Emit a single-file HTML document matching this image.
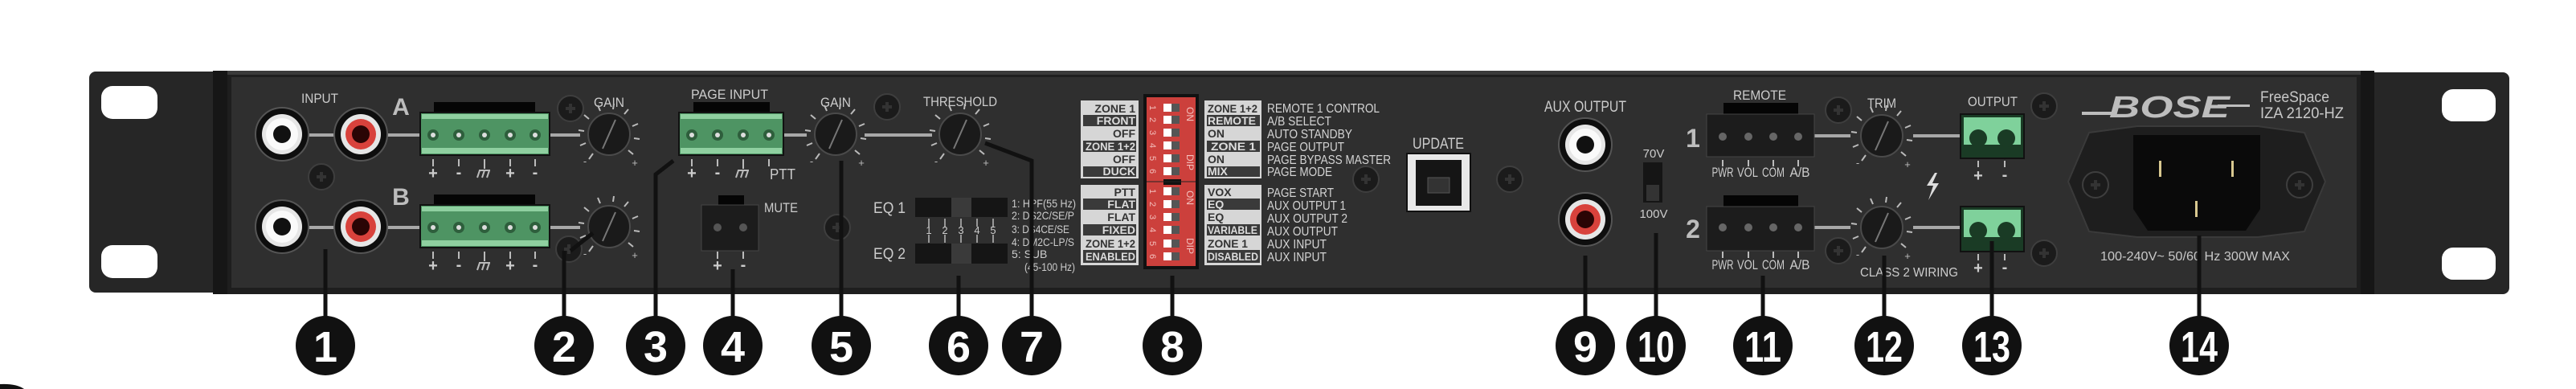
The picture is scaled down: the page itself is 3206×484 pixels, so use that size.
<!DOCTYPE html>
<html><head><meta charset="utf-8"><style>
html,body{margin:0;padding:0;background:#fff;width:3206px;height:484px;overflow:hidden;}
svg{display:block;}
text{font-family:"Liberation Sans Narrow","Liberation Sans",sans-serif;}
</style></head><body>
<svg width="3206" height="484" viewBox="0 0 3206 484" xmlns="http://www.w3.org/2000/svg">
<defs>
<g id="screw"><circle r="16" fill="#1b1b1b" stroke="#3e3e3e" stroke-width="2"/><path d="M-6 0H6M0 -6V6" stroke="#333" stroke-width="4"/></g>
<g id="knob">
<g stroke="#bbb" stroke-width="2">
<line x1="-20" y1="24" x2="-25" y2="31"/><line x1="-29" y1="11" x2="-36" y2="14"/><line x1="-31" y1="-4" x2="-38" y2="-5"/><line x1="-25" y1="-19" x2="-31" y2="-24"/><line x1="-11" y1="-29" x2="-14" y2="-36"/><line x1="5" y1="-31" x2="6" y2="-38"/><line x1="19" y1="-25" x2="24" y2="-31"/><line x1="29" y1="-10" x2="36" y2="-13"/><line x1="31" y1="5" x2="38" y2="6"/><line x1="24" y1="20" x2="30" y2="25"/></g>
<circle r="26" fill="#1a1a1a" stroke="#4a4a4a" stroke-width="2"/>
<line x1="-8" y1="18" x2="8" y2="-18" stroke="#777" stroke-width="2"/>
<text x="-30" y="38" font-size="13" fill="#bbb" text-anchor="middle">-</text><text x="32" y="40" font-size="13" fill="#bbb" text-anchor="middle">+</text>
</g>
<g id="rcaw"><circle r="33" fill="#0e0e0e" stroke="#555" stroke-width="2"/><circle r="25" fill="#e6e6e6"/><circle r="20" fill="#fafafa"/><circle r="11" fill="#111"/></g>
<g id="rcar"><circle r="33" fill="#0e0e0e" stroke="#555" stroke-width="2"/><circle r="25" fill="#e6e6e6"/><circle r="19" fill="#d8423c"/><circle r="11" fill="#2a0505"/></g>
<g id="pin"><circle r="7" fill="#2e5e3c"/><circle r="3" fill="#ddd"/></g>
</defs>
<rect width="3206" height="484" fill="#fff"/>
<rect x="111" y="89" width="170" height="275" rx="8" fill="#262626"/>
<rect x="2940" y="90" width="183" height="276" rx="8" fill="#262626"/>
<rect x="126" y="107" width="70" height="41" rx="14" fill="#fff"/>
<rect x="126" y="305" width="70" height="41" rx="14" fill="#fff"/>
<rect x="3039" y="111" width="67" height="40" rx="14" fill="#fff"/>
<rect x="3039" y="308" width="67" height="40" rx="14" fill="#fff"/>
<rect x="265" y="88" width="2690" height="278" fill="#1e1e1e"/>
<rect x="288" y="96" width="2645" height="262" fill="#2f2f2f"/>
<rect x="265" y="88" width="2690" height="5" fill="#3a3a3a"/>
<rect x="265" y="88" width="18" height="278" fill="#161616"/>
<rect x="2938" y="88" width="17" height="278" fill="#161616"/>

<g stroke="#a8a8a8" stroke-width="4">
<line x1="380" y1="168" x2="420" y2="168"/><line x1="480" y1="168" x2="525" y2="168"/><line x1="685" y1="168" x2="722" y2="168"/>
<line x1="380" y1="283" x2="420" y2="283"/><line x1="480" y1="283" x2="525" y2="283"/><line x1="685" y1="283" x2="722" y2="283"/>
<line x1="975" y1="168" x2="1004" y2="168"/><line x1="1076" y1="168" x2="1160" y2="168"/>
<line x1="2258" y1="169" x2="2303" y2="169"/><line x1="2381" y1="169" x2="2440" y2="169"/>
<line x1="2258" y1="283" x2="2303" y2="283"/><line x1="2381" y1="283" x2="2440" y2="283"/>
</g>

<text x="398" y="128" font-size="17" fill="#ccc" text-anchor="middle" textLength="46" lengthAdjust="spacingAndGlyphs">INPUT</text>
<use href="#rcaw" x="351" y="167"/><use href="#rcar" x="449" y="167"/>
<use href="#rcaw" x="351" y="282"/><use href="#rcar" x="449" y="282"/>
<use href="#screw" x="400" y="220"/>
<text x="499" y="143" font-size="30" font-weight="bold" fill="#bdbdbd" text-anchor="middle">A</text>
<text x="499" y="255" font-size="30" font-weight="bold" fill="#bdbdbd" text-anchor="middle">B</text>

<g>
<rect x="540" y="127" width="126" height="14" fill="#050505"/>
<rect x="523" y="140" width="161" height="53" fill="#4e9463" stroke="#111" stroke-width="2"/>
<rect x="525" y="142" width="157" height="6" fill="#8fd0a0"/><rect x="525" y="184" width="157" height="7" fill="#8fd0a0"/>
<use href="#pin" x="539" y="168"/><use href="#pin" x="571" y="168"/><use href="#pin" x="603" y="168"/><use href="#pin" x="635" y="168"/><use href="#pin" x="666" y="168"/>
<rect x="540" y="242" width="126" height="14" fill="#050505"/>
<rect x="523" y="255" width="161" height="53" fill="#4e9463" stroke="#111" stroke-width="2"/>
<rect x="525" y="257" width="157" height="6" fill="#8fd0a0"/><rect x="525" y="299" width="157" height="7" fill="#8fd0a0"/>
<use href="#pin" x="539" y="283"/><use href="#pin" x="571" y="283"/><use href="#pin" x="603" y="283"/><use href="#pin" x="635" y="283"/><use href="#pin" x="666" y="283"/>
</g>
<g stroke="#bbb" stroke-width="2">
<path d="M539 198v9M571 198v9M603 198v12M635 198v9M666 198v9"/>
<path d="M539 313v9M571 313v9M603 313v12M635 313v9M666 313v9"/>
<path d="M596 212h14M597 212l-3 9M603 212l-3 9M609 212l-3 9"/>
<path d="M596 327h14M597 327l-3 9M603 327l-3 9M609 327l-3 9"/>
</g>
<g font-size="20" font-weight="bold" fill="#ccc" text-anchor="middle">
<text x="539" y="222">+</text><text x="571" y="221">-</text><text x="635" y="222">+</text><text x="666" y="221">-</text>
<text x="539" y="337">+</text><text x="571" y="336">-</text><text x="635" y="337">+</text><text x="666" y="336">-</text>
</g>
<use href="#screw" x="710" y="135"/><use href="#screw" x="708" y="310"/>
<text x="758" y="133" font-size="17" fill="#ccc" text-anchor="middle" textLength="38" lengthAdjust="spacingAndGlyphs">GAIN</text>
<use href="#knob" x="758" y="167"/><use href="#knob" x="758" y="282"/>

<text x="908" y="123" font-size="17" fill="#ccc" text-anchor="middle" textLength="96" lengthAdjust="spacingAndGlyphs">PAGE INPUT</text>
<rect x="863" y="127" width="95" height="14" fill="#050505"/>
<rect x="845" y="140" width="130" height="53" fill="#4e9463" stroke="#111" stroke-width="2"/>
<rect x="847" y="142" width="126" height="6" fill="#8fd0a0"/><rect x="847" y="184" width="126" height="7" fill="#8fd0a0"/>
<use href="#pin" x="861" y="168"/><use href="#pin" x="893" y="168"/><use href="#pin" x="925" y="168"/><use href="#pin" x="957" y="168"/>
<g stroke="#bbb" stroke-width="2"><path d="M861 198v9M893 198v9M925 198v12M957 198v9"/><path d="M918 212h14M919 212l-3 9M925 212l-3 9M931 212l-3 9"/></g>
<g font-size="20" font-weight="bold" fill="#ccc" text-anchor="middle"><text x="861" y="222">+</text><text x="893" y="221">-</text></g>
<text x="974" y="223" font-size="18" fill="#ccc" text-anchor="middle" textLength="32" lengthAdjust="spacingAndGlyphs">PTT</text>

<rect x="894" y="243" width="32" height="14" fill="#050505"/>
<rect x="873" y="255" width="71" height="57" fill="#1c1c1c" stroke="#444" stroke-width="1"/>
<circle cx="893" cy="283" r="5" fill="#555"/><circle cx="925" cy="283" r="5" fill="#555"/>
<text x="972" y="264" font-size="17" fill="#ccc" text-anchor="middle" textLength="42" lengthAdjust="spacingAndGlyphs">MUTE</text>
<g stroke="#bbb" stroke-width="2"><path d="M893 313v9M925 313v9"/></g>
<g font-size="20" font-weight="bold" fill="#ccc" text-anchor="middle"><text x="893" y="337">+</text><text x="925" y="336">-</text></g>

<text x="1040" y="133" font-size="17" fill="#ccc" text-anchor="middle" textLength="38" lengthAdjust="spacingAndGlyphs">GAIN</text>
<use href="#knob" x="1040" y="167"/>
<use href="#screw" x="1042" y="283"/><use href="#screw" x="1104" y="133"/>
<text x="1195" y="132" font-size="17" fill="#ccc" text-anchor="middle" textLength="92" lengthAdjust="spacingAndGlyphs">THRESHOLD</text>
<use href="#knob" x="1195" y="167"/>

<text x="1107" y="265" font-size="19" fill="#ccc" text-anchor="middle" textLength="40" lengthAdjust="spacingAndGlyphs">EQ 1</text>
<text x="1107" y="322" font-size="19" fill="#ccc" text-anchor="middle" textLength="40" lengthAdjust="spacingAndGlyphs">EQ 2</text>
<rect x="1139" y="246" width="115" height="24" fill="#151515"/><rect x="1184" y="246" width="25" height="24" fill="#3a3a3a"/>
<rect x="1139" y="303" width="115" height="25" fill="#151515"/><rect x="1184" y="303" width="25" height="25" fill="#3a3a3a"/>
<g stroke="#bbb" stroke-width="1.5"><path d="M1156 272v10M1176 272v10M1196 272v10M1216 272v10M1236 272v10M1156 292v10M1176 292v10M1196 292v10M1216 292v10M1236 292v10"/></g>
<g font-size="13" fill="#ccc" text-anchor="middle"><text x="1156" y="291">1</text><text x="1176" y="291">2</text><text x="1196" y="291">3</text><text x="1216" y="291">4</text><text x="1236" y="291">5</text></g>
<g font-size="14" fill="#ccc">
<text x="1259" y="258" textLength="80" lengthAdjust="spacingAndGlyphs">1: HPF(55 Hz)</text><text x="1259" y="273" textLength="78" lengthAdjust="spacingAndGlyphs">2: DS2C/SE/P</text><text x="1259" y="290" textLength="72" lengthAdjust="spacingAndGlyphs">3: DS4CE/SE</text><text x="1259" y="306" textLength="78" lengthAdjust="spacingAndGlyphs">4: DM2C-LP/S</text><text x="1259" y="321">5: SUB</text><text x="1275" y="337" textLength="63" lengthAdjust="spacingAndGlyphs">(45-100 Hz)</text>
</g>

<rect x="1345" y="125" width="72" height="97" fill="#d6d6d6"/>
<rect x="1345" y="230" width="72" height="100" fill="#d6d6d6"/>
<rect x="1499" y="125" width="71" height="97" fill="#d6d6d6"/>
<rect x="1499" y="230" width="71" height="100" fill="#d6d6d6"/>
<g fill="#3a3a3a">
<rect x="1348" y="143" width="66" height="14"/><rect x="1348" y="175" width="66" height="14"/><rect x="1348" y="207" width="66" height="13"/>
<rect x="1348" y="247" width="66" height="14"/><rect x="1348" y="279" width="66" height="14"/><rect x="1348" y="311" width="66" height="16"/>
<rect x="1502" y="143" width="66" height="14"/><rect x="1502" y="175" width="66" height="14"/><rect x="1502" y="207" width="66" height="13"/>
<rect x="1502" y="247" width="66" height="14"/><rect x="1502" y="279" width="66" height="14"/><rect x="1502" y="311" width="66" height="16"/>
</g>
<g font-size="14" font-weight="bold" text-anchor="end">
<text x="1413" y="140" fill="#333">ZONE 1</text><text x="1413" y="155" fill="#ddd">FRONT</text><text x="1413" y="171" fill="#333">OFF</text><text x="1413" y="187" fill="#ddd" textLength="62" lengthAdjust="spacingAndGlyphs">ZONE 1+2</text><text x="1413" y="203" fill="#333">OFF</text><text x="1413" y="218" fill="#ddd">DUCK</text>
<text x="1413" y="244" fill="#333">PTT</text><text x="1413" y="259" fill="#ddd">FLAT</text><text x="1413" y="275" fill="#333">FLAT</text><text x="1413" y="291" fill="#ddd">FIXED</text><text x="1413" y="308" fill="#333" textLength="62" lengthAdjust="spacingAndGlyphs">ZONE 1+2</text><text x="1413" y="324" fill="#ddd" textLength="62" lengthAdjust="spacingAndGlyphs">ENABLED</text>
</g>
<g font-size="14" font-weight="bold">
<text x="1503" y="140" fill="#333" textLength="62" lengthAdjust="spacingAndGlyphs">ZONE 1+2</text><text x="1503" y="155" fill="#ddd" textLength="60" lengthAdjust="spacingAndGlyphs">REMOTE</text><text x="1503" y="171" fill="#333">ON</text><text x="1507" y="187" fill="#ddd" textLength="56" lengthAdjust="spacingAndGlyphs">ZONE 1</text><text x="1503" y="203" fill="#333">ON</text><text x="1503" y="218" fill="#ddd">MIX</text>
<text x="1503" y="244" fill="#333">VOX</text><text x="1503" y="259" fill="#ddd">EQ</text><text x="1503" y="275" fill="#333">EQ</text><text x="1503" y="291" fill="#ddd" textLength="62" lengthAdjust="spacingAndGlyphs">VARIABLE</text><text x="1503" y="308" fill="#333" textLength="50" lengthAdjust="spacingAndGlyphs">ZONE 1</text><text x="1503" y="324" fill="#ddd" textLength="63" lengthAdjust="spacingAndGlyphs">DISABLED</text>
</g>
<rect x="1423" y="117" width="69" height="218" fill="#111"/>
<rect x="1427" y="121" width="61" height="210" fill="#cc403c"/>
<rect x="1448" y="223" width="22" height="7" fill="#111"/>
<line x1="1427" y1="226" x2="1488" y2="226" stroke="#222" stroke-width="1"/>
<g fill="#fff"><rect x="1448" y="129" width="10" height="10"/><rect x="1448" y="144" width="10" height="10"/><rect x="1448" y="160" width="10" height="10"/><rect x="1448" y="176" width="10" height="10"/><rect x="1448" y="192" width="10" height="10"/><rect x="1448" y="208" width="10" height="10"/>
<rect x="1448" y="233" width="10" height="10"/><rect x="1448" y="249" width="10" height="10"/><rect x="1448" y="265" width="10" height="10"/><rect x="1448" y="281" width="10" height="10"/><rect x="1448" y="298" width="10" height="10"/><rect x="1448" y="314" width="10" height="10"/></g>
<g fill="#555"><rect x="1458" y="129" width="10" height="10"/><rect x="1458" y="144" width="10" height="10"/><rect x="1458" y="160" width="10" height="10"/><rect x="1458" y="176" width="10" height="10"/><rect x="1458" y="192" width="10" height="10"/><rect x="1458" y="208" width="10" height="10"/>
<rect x="1458" y="233" width="10" height="10"/><rect x="1458" y="249" width="10" height="10"/><rect x="1458" y="265" width="10" height="10"/><rect x="1458" y="281" width="10" height="10"/><rect x="1458" y="298" width="10" height="10"/><rect x="1458" y="314" width="10" height="10"/></g>
<g font-size="11" fill="#f3c0bd" text-anchor="middle">
<text transform="translate(1435 134) rotate(90)" y="4">1</text><text transform="translate(1435 149) rotate(90)" y="4">2</text><text transform="translate(1435 165) rotate(90)" y="4">3</text><text transform="translate(1435 181) rotate(90)" y="4">4</text><text transform="translate(1435 197) rotate(90)" y="4">5</text><text transform="translate(1435 213) rotate(90)" y="4">6</text>
<text transform="translate(1435 238) rotate(90)" y="4">1</text><text transform="translate(1435 254) rotate(90)" y="4">2</text><text transform="translate(1435 270) rotate(90)" y="4">3</text><text transform="translate(1435 286) rotate(90)" y="4">4</text><text transform="translate(1435 303) rotate(90)" y="4">5</text><text transform="translate(1435 319) rotate(90)" y="4">6</text>
<text transform="translate(1481 142) rotate(90)" y="4" font-size="12">ON</text><text transform="translate(1481 202) rotate(90)" y="4" font-size="12">DIP</text>
<text transform="translate(1481 246) rotate(90)" y="4" font-size="12">ON</text><text transform="translate(1481 306) rotate(90)" y="4" font-size="12">DIP</text>
</g>
<g font-size="16" fill="#d4d4d4">
<text x="1577" y="140" textLength="140" lengthAdjust="spacingAndGlyphs">REMOTE 1 CONTROL</text><text x="1577" y="156" textLength="80" lengthAdjust="spacingAndGlyphs">A/B SELECT</text><text x="1577" y="172" textLength="106" lengthAdjust="spacingAndGlyphs">AUTO STANDBY</text><text x="1577" y="188" textLength="96" lengthAdjust="spacingAndGlyphs">PAGE OUTPUT</text><text x="1577" y="204" textLength="154" lengthAdjust="spacingAndGlyphs">PAGE BYPASS MASTER</text><text x="1577" y="219" textLength="81" lengthAdjust="spacingAndGlyphs">PAGE MODE</text>
<text x="1577" y="245" textLength="83" lengthAdjust="spacingAndGlyphs">PAGE START</text><text x="1577" y="261" textLength="98" lengthAdjust="spacingAndGlyphs">AUX OUTPUT 1</text><text x="1577" y="277" textLength="100" lengthAdjust="spacingAndGlyphs">AUX OUTPUT 2</text><text x="1577" y="293" textLength="88" lengthAdjust="spacingAndGlyphs">AUX OUTPUT</text><text x="1577" y="309" textLength="74" lengthAdjust="spacingAndGlyphs">AUX INPUT</text><text x="1577" y="325" textLength="74" lengthAdjust="spacingAndGlyphs">AUX INPUT</text>
</g>

<use href="#screw" x="1700" y="223"/><use href="#screw" x="1879" y="223"/>
<text x="1790" y="185" font-size="19" fill="#ccc" text-anchor="middle" textLength="64" lengthAdjust="spacingAndGlyphs">UPDATE</text>
<rect x="1751" y="191" width="79" height="72" fill="#e8e8e8" stroke="#111" stroke-width="2"/>
<rect x="1762" y="199" width="57" height="57" fill="#151515"/>
<rect x="1777" y="221" width="27" height="19" fill="#333" stroke="#555"/>

<text x="1973" y="139" font-size="19" fill="#ccc" text-anchor="middle" textLength="102" lengthAdjust="spacingAndGlyphs">AUX OUTPUT</text>
<use href="#rcaw" x="1973" y="180"/><use href="#rcar" x="1973" y="273"/>
<text x="2058" y="196" font-size="15" fill="#ccc" text-anchor="middle">70V</text>
<rect x="2045" y="202" width="24" height="50" fill="#151515"/><rect x="2049" y="230" width="16" height="20" fill="#333"/>
<text x="2058" y="271" font-size="15" fill="#ccc" text-anchor="middle">100V</text>

<text x="2190" y="124" font-size="17" fill="#ccc" text-anchor="middle" textLength="66" lengthAdjust="spacingAndGlyphs">REMOTE</text>
<text x="2107" y="183" font-size="32" font-weight="bold" fill="#bdbdbd" text-anchor="middle">1</text>
<text x="2107" y="296" font-size="32" font-weight="bold" fill="#bdbdbd" text-anchor="middle">2</text>
<rect x="2145" y="128" width="93" height="15" fill="#050505"/>
<rect x="2124" y="142" width="134" height="53" fill="#1c1c1c" stroke="#444"/>
<rect x="2145" y="243" width="93" height="15" fill="#050505"/>
<rect x="2124" y="257" width="134" height="55" fill="#1c1c1c" stroke="#444"/>
<g fill="#666"><circle cx="2144" cy="170" r="5"/><circle cx="2176" cy="170" r="5"/><circle cx="2207" cy="170" r="5"/><circle cx="2238" cy="170" r="5"/><circle cx="2144" cy="283" r="5"/><circle cx="2176" cy="283" r="5"/><circle cx="2207" cy="283" r="5"/><circle cx="2238" cy="283" r="5"/></g>
<g stroke="#bbb" stroke-width="2"><path d="M2144 199v8M2176 199v8M2207 199v8M2238 199v8M2144 313v8M2176 313v8M2207 313v8M2238 313v8"/></g>
<g font-size="17" fill="#ccc" text-anchor="middle">
<text x="2144" y="220" textLength="27" lengthAdjust="spacingAndGlyphs">PWR</text><text x="2175" y="220" textLength="26" lengthAdjust="spacingAndGlyphs">VOL</text><text x="2207" y="220" textLength="28" lengthAdjust="spacingAndGlyphs">COM</text><text x="2240" y="220" textLength="25" lengthAdjust="spacingAndGlyphs">A/B</text>
<text x="2144" y="335" textLength="27" lengthAdjust="spacingAndGlyphs">PWR</text><text x="2175" y="335" textLength="26" lengthAdjust="spacingAndGlyphs">VOL</text><text x="2207" y="335" textLength="28" lengthAdjust="spacingAndGlyphs">COM</text><text x="2240" y="335" textLength="25" lengthAdjust="spacingAndGlyphs">A/B</text>
</g>
<use href="#screw" x="2288" y="137"/><use href="#screw" x="2288" y="312"/>
<text x="2342" y="134" font-size="17" fill="#ccc" text-anchor="middle" textLength="36" lengthAdjust="spacingAndGlyphs">TRIM</text>
<use href="#knob" x="2342" y="169"/><use href="#knob" x="2342" y="283"/>
<text x="2376" y="344" font-size="16" fill="#ccc" text-anchor="middle" textLength="122" lengthAdjust="spacingAndGlyphs">CLASS 2 WIRING</text>
<path d="M2408 215l-10 16h8l-6 18 13-21h-8l6-13z" fill="#ddd"/>

<text x="2480" y="132" font-size="17" fill="#ccc" text-anchor="middle" textLength="62" lengthAdjust="spacingAndGlyphs">OUTPUT</text>
<rect x="2440" y="142" width="79" height="55" fill="#1a3b25" stroke="#111" stroke-width="2"/>
<rect x="2444" y="146" width="71" height="34" fill="#7fd19b"/>
<circle cx="2462" cy="172" r="11" fill="#1a3b25"/><circle cx="2497" cy="172" r="11" fill="#1a3b25"/>
<rect x="2440" y="257" width="79" height="56" fill="#1a3b25" stroke="#111" stroke-width="2"/>
<rect x="2444" y="261" width="71" height="34" fill="#7fd19b"/>
<circle cx="2462" cy="287" r="11" fill="#1a3b25"/><circle cx="2497" cy="287" r="11" fill="#1a3b25"/>
<g stroke="#bbb" stroke-width="2"><path d="M2462 200v8M2495 200v8M2462 316v8M2495 316v8"/></g>
<g font-size="20" font-weight="bold" fill="#ccc" text-anchor="middle"><text x="2462" y="225">+</text><text x="2495" y="224">-</text><text x="2462" y="340">+</text><text x="2495" y="339">-</text></g>
<use href="#screw" x="2544" y="132"/><use href="#screw" x="2544" y="315"/>

<rect x="2591" y="139" width="40" height="4" fill="#bdbdbd"/>
<text x="2700" y="146" font-size="38" font-weight="bold" font-style="italic" fill="#bdbdbd" text-anchor="middle" textLength="150" lengthAdjust="spacingAndGlyphs">BOSE</text>
<rect x="2760" y="130" width="40" height="3" fill="#bdbdbd"/>
<text x="2813" y="127" font-size="19" fill="#c8c8c8" textLength="86" lengthAdjust="spacingAndGlyphs">FreeSpace</text>
<text x="2813" y="147" font-size="19" fill="#c8c8c8" textLength="104" lengthAdjust="spacingAndGlyphs">IZA 2120-HZ</text>

<path d="M2600 165 L2660 157 L2810 157 L2868 165 L2894 226 L2868 288 L2810 295 L2660 295 L2600 288 L2574 226 Z" fill="#1e1e1e" stroke="#3a3a3a" stroke-width="2"/>
<use href="#screw" x="2608" y="230"/><use href="#screw" x="2862" y="230"/>
<path d="M2655 168 H2813 V260 L2795 287 H2673 L2655 260 Z" fill="#0a0a0a"/>
<rect x="2687" y="200" width="3" height="20" fill="#d8c890"/><rect x="2777" y="200" width="3" height="20" fill="#d8c890"/><rect x="2732" y="250" width="3" height="20" fill="#d8c890"/>
<text x="2732" y="324" font-size="16" fill="#c8c8c8" text-anchor="middle" textLength="236" lengthAdjust="spacingAndGlyphs">100-240V~ 50/60 Hz   300W MAX</text>

<g stroke="#111" stroke-width="5" fill="none">
<path d="M405 310V395"/>
<path d="M738 290L710 312M702 312V395"/>
<path d="M838 200L816 217V395"/>
<path d="M912 335V395"/>
<path d="M1047 200V395"/>
<path d="M1193 343V395"/>
<path d="M1226 178L1284 200V395"/>
<path d="M1459 343V395"/>
<path d="M1973 318V395"/>
<path d="M2061 290V395"/>
<path d="M2194 343V395"/>
<path d="M2345 318V395"/>
<path d="M2479 300V395"/>
<path d="M2737 293V395"/>
</g>
<g fill="#111">
<circle cx="405" cy="430" r="37"/><circle cx="702" cy="430" r="37"/><circle cx="816" cy="430" r="37"/><circle cx="912" cy="430" r="37"/><circle cx="1047" cy="430" r="37"/><circle cx="1193" cy="430" r="37"/><circle cx="1284" cy="430" r="37"/><circle cx="1459" cy="430" r="37"/><circle cx="1973" cy="430" r="37"/><circle cx="2061" cy="430" r="37"/><circle cx="2194" cy="430" r="37"/><circle cx="2345" cy="430" r="37"/><circle cx="2479" cy="430" r="37"/><circle cx="2737" cy="430" r="37"/>
<path d="M0 478 Q20 477 30 484 L0 484 Z"/>
</g>
<g font-size="54" font-weight="bold" fill="#fff" text-anchor="middle">
<text x="405" y="450">1</text><text x="702" y="450">2</text><text x="816" y="450">3</text><text x="912" y="450">4</text><text x="1047" y="450">5</text><text x="1193" y="450">6</text><text x="1284" y="450">7</text><text x="1459" y="450">8</text><text x="1973" y="450">9</text>
<text x="2061" y="450" textLength="46" lengthAdjust="spacingAndGlyphs">10</text><text x="2194" y="450" textLength="46" lengthAdjust="spacingAndGlyphs">11</text><text x="2345" y="450" textLength="46" lengthAdjust="spacingAndGlyphs">12</text><text x="2479" y="450" textLength="46" lengthAdjust="spacingAndGlyphs">13</text><text x="2737" y="450" textLength="46" lengthAdjust="spacingAndGlyphs">14</text>
</g>
</svg>
</body></html>
